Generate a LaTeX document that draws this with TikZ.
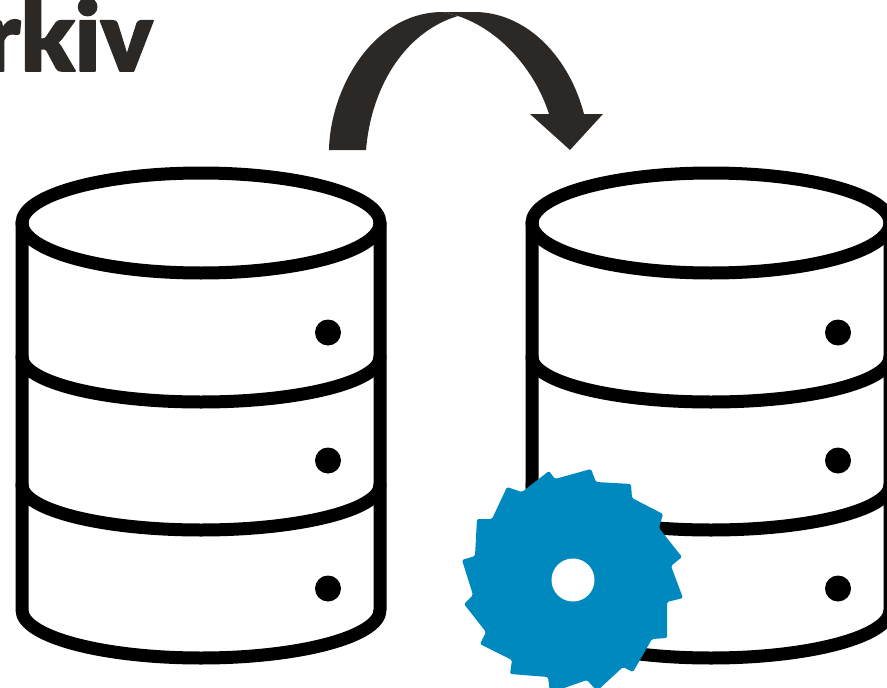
\documentclass[tikz,border=0pt]{standalone}
\usepackage{fontspec}
\newfontfamily\logofont[FakeBold=1.6]{Lato Black}
\definecolor{arrowdark}{HTML}{2B2825}
\definecolor{sawblue}{HTML}{0089BE}

\begin{document}
\begin{tikzpicture}[x=1pt, y=-1pt, line cap = round, line join = round]
\tikzstyle{band}=[draw=black, line width=13pt]
\tikzstyle{led}=[circle, fill=black, inner sep=0pt, minimum size=26pt]
\tikzstyle{hole}=[circle, fill=white, inner sep=0pt, minimum size=43pt]
\useasboundingbox (0,0) rectangle (887,688);
\clip (0,0) rectangle (887,688);

% heading, cut off by the page
\node[anchor=base east, inner sep=0pt, text=arrowdark] (title) at (153,71) {\logofont\fontsize{97}{97}\selectfont rkiv};

% the two drums
\foreach \cx/\name in {201/left, 711/right} {
  \draw[band] (\cx,223) ellipse [x radius=179, y radius=50];
  \draw[band] (\cx-179,223) -- (\cx-179,610) arc [start angle=180, end angle=0, x radius=179, y radius=48] -- (\cx+179,223);
  \draw[band] (\cx-179,357) arc [start angle=180, end angle=0, x radius=179, y radius=45];
  \draw[band] (\cx-179,485) arc [start angle=180, end angle=0, x radius=179, y radius=45];
  \node[led] (\name1) at (\cx+127,332.5) {};
  \node[led] (\name2) at (\cx+127,460.5) {};
  \node[led] (\name3) at (\cx+127,588.5) {};
}

% curved arrow from drum to drum
\fill[arrowdark] (329,150) .. controls (330,90) and (372,12) .. (443,12)
  -- (458,16) .. controls (410,30) and (372,80) .. (366,150) -- cycle;
\fill[arrowdark] (443,12) -- (477,12) .. controls (530,14) and (570,60) .. (584,114)
  -- (603,114) -- (570,150) -- (530,114) -- (549,114) .. controls (535,70) and (500,30) .. (458,16) -- cycle;

% saw blade
\fill[sawblue, rounded corners=1.5pt] (549,471) -- (555,479) -- (591,469) -- (596,482) -- (631,484)
  -- (632,498) -- (663,514) -- (659,528) -- (682,557) -- (671,566) -- (683,598) -- (667,602)
  -- (667,638) -- (652,639) -- (633,672) -- (623,667) -- (597,691) -- (587,680) -- (550,693)
  -- (548,677) -- (510,674) -- (512,660) -- (480,644) -- (486,632) -- (464,604) -- (473,595)
  -- (462,560) -- (475,556) -- (477,519) -- (492,519) -- (507,487) -- (522,492) -- cycle;
\node[hole] (bore) at (573,580) {};
\end{tikzpicture}
\end{document}
